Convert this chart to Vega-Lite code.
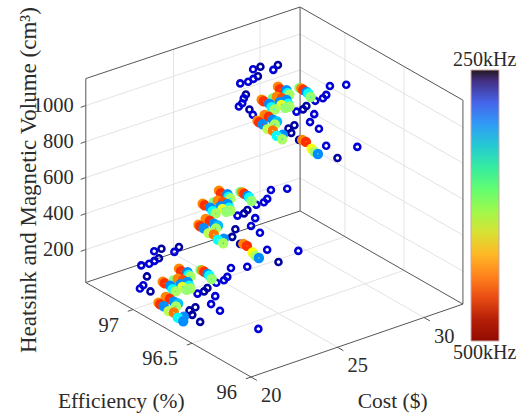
{"$schema":"https://vega.github.io/schema/vega-lite/v6.json","width":519,"height":417,"padding":0,"autosize":{"type":"none"},"background":"white","view":{"stroke":null},"config":{"text":{"font":"Liberation Serif","fontSize":20.5,"color":"#2b2b2b"}},
"data":{"values":[
{"k":"g","cost":20,"eff":97.4,"vol":200,"cost2":32.25,"eff2":97.38,"vol2":200},{"k":"g","cost":32.25,"eff":97.38,"vol":200,"cost2":32.25,"eff2":96,"vol2":200},
{"k":"g","cost":20,"eff":97.4,"vol":400,"cost2":32.25,"eff2":97.38,"vol2":400},{"k":"g","cost":32.25,"eff":97.38,"vol":400,"cost2":32.25,"eff2":96,"vol2":400},
{"k":"g","cost":20,"eff":97.4,"vol":600,"cost2":32.25,"eff2":97.38,"vol2":600},{"k":"g","cost":32.25,"eff":97.38,"vol":600,"cost2":32.25,"eff2":96,"vol2":600},
{"k":"g","cost":20,"eff":97.4,"vol":800,"cost2":32.25,"eff2":97.38,"vol2":800},{"k":"g","cost":32.25,"eff":97.38,"vol":800,"cost2":32.25,"eff2":96,"vol2":800},
{"k":"g","cost":20,"eff":97.4,"vol":1000,"cost2":32.25,"eff2":97.38,"vol2":1000},{"k":"g","cost":32.25,"eff":97.38,"vol":1000,"cost2":32.25,"eff2":96,"vol2":1000},
{"k":"g","cost":25,"eff":96,"vol":17,"cost2":25,"eff2":97.39,"vol2":17},{"k":"g","cost":25,"eff":97.39,"vol":17,"cost2":25,"eff2":97.39,"vol2":1150},
{"k":"g","cost":30,"eff":96,"vol":17,"cost2":30,"eff2":97.39,"vol2":17},{"k":"g","cost":30,"eff":97.39,"vol":17,"cost2":30,"eff2":97.39,"vol2":1150},
{"k":"g","cost":20,"eff":96.5,"vol":17,"cost2":32.25,"eff2":96.5,"vol2":17},{"k":"g","cost":32.25,"eff":96.5,"vol":17,"cost2":32.25,"eff2":96.5,"vol2":1150},
{"k":"g","cost":20,"eff":97,"vol":17,"cost2":32.25,"eff2":97,"vol2":17},{"k":"g","cost":32.25,"eff":97,"vol":17,"cost2":32.25,"eff2":97,"vol2":1150},
{"k":"b","cost":20,"eff":97.4,"vol":17,"cost2":20,"eff2":96,"vol2":17},{"k":"b","cost":20,"eff":96,"vol":17,"cost2":32.25,"eff2":96,"vol2":17},
{"k":"b","cost":20,"eff":97.4,"vol":17,"cost2":32.25,"eff2":97.38,"vol2":17},{"k":"b","cost":32.25,"eff":97.38,"vol":17,"cost2":32.25,"eff2":96,"vol2":17},
{"k":"b","cost":20,"eff":97.4,"vol":17,"cost2":20,"eff2":97.4,"vol2":1150},{"k":"b","cost":32.25,"eff":96,"vol":17,"cost2":32.25,"eff2":96,"vol2":1150},
{"k":"b","cost":32.25,"eff":97.38,"vol":17,"cost2":32.25,"eff2":97.38,"vol2":1150},{"k":"b","cost":20,"eff":97.4,"vol":1150,"cost2":32.25,"eff2":97.38,"vol2":1150},
{"k":"b","cost":32.25,"eff":97.38,"vol":1150,"cost2":32.25,"eff2":96,"vol2":1150},
{"k":"b","cost":19.7,"eff":97.4,"vol":200,"cost2":20,"eff2":97.4,"vol2":200},{"k":"b","cost":19.7,"eff":97.4,"vol":400,"cost2":20,"eff2":97.4,"vol2":400},{"k":"b","cost":19.7,"eff":97.4,"vol":600,"cost2":20,"eff2":97.4,"vol2":600},{"k":"b","cost":19.7,"eff":97.4,"vol":800,"cost2":20,"eff2":97.4,"vol2":800},{"k":"b","cost":19.7,"eff":97.4,"vol":1000,"cost2":20,"eff2":97.4,"vol2":1000},
{"k":"b","cost":19.7,"eff":96,"vol":17,"cost2":20,"eff2":96,"vol2":17},{"k":"b","cost":19.7,"eff":96.5,"vol":17,"cost2":20,"eff2":96.5,"vol2":17},{"k":"b","cost":19.7,"eff":97,"vol":17,"cost2":20,"eff2":97,"vol2":17},
{"k":"b","cost":20,"eff":95.95,"vol":17,"cost2":20,"eff2":96,"vol2":17},{"k":"b","cost":25,"eff":95.95,"vol":17,"cost2":25,"eff2":96,"vol2":17},{"k":"b","cost":30,"eff":95.95,"vol":17,"cost2":30,"eff2":96,"vol2":17},
{"k":"v","label":"200","cost":20,"eff":97.4,"vol":200},{"k":"v","label":"400","cost":20,"eff":97.4,"vol":400},{"k":"v","label":"600","cost":20,"eff":97.4,"vol":600},{"k":"v","label":"800","cost":20,"eff":97.4,"vol":800},{"k":"v","label":"1000","cost":20,"eff":97.4,"vol":1000},
{"k":"e","label":"96","cost":20,"eff":96,"vol":17},{"k":"e","label":"96.5","cost":20,"eff":96.5,"vol":17},{"k":"e","label":"97","cost":20,"eff":97,"vol":17},
{"k":"c","label":"20","cost":20,"eff":96,"vol":17},{"k":"c","label":"25","cost":25,"eff":96,"vol":17},{"k":"c","label":"30","cost":30,"eff":96,"vol":17},
{"k":"t","label":"Efficiency (%)","cost":13.73,"eff":96.18,"vol":17},{"k":"t","label":"Cost ($)","cost":23.55,"eff":95.32,"vol":17},
{"k":"z","label":"Heatsink and Magnetic Volume (cm³)","cost":20,"eff":97.88,"vol":406},
{"k":"h","label":"250kHz","hz":250,"cost":48.45,"eff":98.19,"vol":17},{"k":"h","label":"500kHz","hz":500,"cost":29.96,"eff":95.48,"vol":17},
{"cost":24.43,"eff":97.47,"vol":18,"f":270},{"cost":24.85,"eff":97.47,"vol":18,"f":255},{"cost":25.59,"eff":97.43,"vol":18,"f":255},{"cost":25.12,"eff":97.4,"vol":18,"f":270},{"cost":24.16,"eff":97.39,"vol":18,"f":255},{"cost":23.83,"eff":97.38,"vol":18,"f":270},{"cost":23.46,"eff":97.37,"vol":18,"f":270},{"cost":23.07,"eff":97.38,"vol":18,"f":270},{"cost":22.58,"eff":97.26,"vol":18,"f":255},{"cost":21.89,"eff":97.19,"vol":18,"f":270},{"cost":21.56,"eff":97.17,"vol":18,"f":270},{"cost":21.76,"eff":97.11,"vol":18,"f":255},{"cost":26.14,"eff":97.07,"vol":18,"f":270},{"cost":26.81,"eff":97.03,"vol":18,"f":270},{"cost":25.45,"eff":97,"vol":18,"f":270},{"cost":25.12,"eff":96.98,"vol":18,"f":270},{"cost":24.68,"eff":96.98,"vol":18,"f":270},{"cost":24.03,"eff":96.96,"vol":18,"f":255},{"cost":23.7,"eff":96.94,"vol":18,"f":255},{"cost":23.32,"eff":96.94,"vol":18,"f":270},{"cost":23.8,"eff":96.86,"vol":18,"f":270},{"cost":23.15,"eff":96.8,"vol":18,"f":270},{"cost":23.05,"eff":96.71,"vol":18,"f":270},{"cost":22.38,"eff":96.82,"vol":18,"f":255},{"cost":21.97,"eff":96.81,"vol":18,"f":255},{"cost":21.79,"eff":96.76,"vol":18,"f":255},{"cost":21.63,"eff":96.67,"vol":18,"f":255},{"cost":23.29,"eff":96.42,"vol":18,"f":270},
{"cost":28.45,"eff":97.07,"vol":375,"f":270},{"cost":29.12,"eff":97.03,"vol":375,"f":270},{"cost":27.76,"eff":97,"vol":375,"f":270},{"cost":27.43,"eff":96.98,"vol":375,"f":270},{"cost":26.99,"eff":96.98,"vol":375,"f":270},{"cost":26.34,"eff":96.96,"vol":375,"f":255},{"cost":26.01,"eff":96.94,"vol":375,"f":255},{"cost":25.63,"eff":96.94,"vol":375,"f":270},{"cost":26.11,"eff":96.86,"vol":375,"f":270},{"cost":25.46,"eff":96.8,"vol":375,"f":270},{"cost":25.36,"eff":96.71,"vol":375,"f":270},{"cost":24.69,"eff":96.82,"vol":375,"f":255},{"cost":24.1,"eff":96.76,"vol":375,"f":255},{"cost":23.94,"eff":96.67,"vol":375,"f":255},{"cost":24.55,"eff":96.53,"vol":375,"f":270},{"cost":25.6,"eff":96.42,"vol":375,"f":270},{"cost":24.18,"eff":96.38,"vol":375,"f":255},
{"cost":30.15,"eff":97.47,"vol":840,"f":270},{"cost":30.57,"eff":97.47,"vol":840,"f":255},{"cost":31.31,"eff":97.43,"vol":840,"f":255},{"cost":30.84,"eff":97.4,"vol":840,"f":270},{"cost":29.88,"eff":97.39,"vol":840,"f":255},{"cost":29.55,"eff":97.38,"vol":840,"f":270},{"cost":29.18,"eff":97.37,"vol":840,"f":270},{"cost":28.79,"eff":97.38,"vol":840,"f":270},{"cost":28.3,"eff":97.26,"vol":840,"f":255},{"cost":27.97,"eff":97.23,"vol":840,"f":270},{"cost":27.61,"eff":97.19,"vol":840,"f":270},{"cost":27.28,"eff":97.17,"vol":840,"f":270},{"cost":27.48,"eff":97.11,"vol":840,"f":255},{"cost":27.27,"eff":97.05,"vol":840,"f":270},{"cost":31.86,"eff":97.07,"vol":840,"f":270},{"cost":32.53,"eff":97.03,"vol":840,"f":270},{"cost":31.17,"eff":97,"vol":840,"f":270},{"cost":30.84,"eff":96.98,"vol":840,"f":270},{"cost":30.4,"eff":96.98,"vol":840,"f":270},{"cost":29.75,"eff":96.96,"vol":840,"f":255},{"cost":29.42,"eff":96.94,"vol":840,"f":255},{"cost":29.04,"eff":96.94,"vol":840,"f":270},{"cost":29.52,"eff":96.86,"vol":840,"f":270},{"cost":28.87,"eff":96.8,"vol":840,"f":270},{"cost":28.77,"eff":96.71,"vol":840,"f":270},{"cost":28.1,"eff":96.82,"vol":840,"f":255},{"cost":27.69,"eff":96.81,"vol":840,"f":255},{"cost":27.51,"eff":96.76,"vol":840,"f":255},{"cost":27.35,"eff":96.67,"vol":840,"f":255},{"cost":27.96,"eff":96.53,"vol":840,"f":270},{"cost":29.01,"eff":96.42,"vol":840,"f":270},{"cost":27.59,"eff":96.38,"vol":840,"f":255},
{"cost":24.92,"eff":97.15,"vol":18,"f":375},{"cost":24.96,"eff":97.14,"vol":18,"f":445},{"cost":24.94,"eff":97.12,"vol":18,"f":465},{"cost":24.93,"eff":97.09,"vol":18,"f":305},{"cost":24.89,"eff":97.07,"vol":18,"f":345},{"cost":24.75,"eff":97.03,"vol":18,"f":380},{"cost":24.23,"eff":97.23,"vol":18,"f":445},{"cost":24.14,"eff":97.2,"vol":18,"f":465},{"cost":24.31,"eff":97.17,"vol":18,"f":305},{"cost":24.17,"eff":97.14,"vol":18,"f":345},{"cost":24.14,"eff":97.12,"vol":18,"f":385},{"cost":22.81,"eff":97.16,"vol":18,"f":445},{"cost":22.79,"eff":97.14,"vol":18,"f":465},{"cost":23.31,"eff":97.14,"vol":18,"f":375},{"cost":23.55,"eff":97.14,"vol":18,"f":445},{"cost":23.63,"eff":97.11,"vol":18,"f":460},{"cost":23.7,"eff":97.08,"vol":18,"f":305},{"cost":23.3,"eff":97.08,"vol":18,"f":305},{"cost":22.84,"eff":97.1,"vol":18,"f":305},{"cost":23.52,"eff":97.04,"vol":18,"f":345},{"cost":22.7,"eff":97.06,"vol":18,"f":345},{"cost":23.2,"eff":97.05,"vol":18,"f":400},{"cost":23.39,"eff":97.01,"vol":18,"f":385},{"cost":22.67,"eff":97.03,"vol":18,"f":385},{"cost":23.16,"eff":97.01,"vol":18,"f":380},{"cost":21.96,"eff":97.01,"vol":18,"f":445},{"cost":21.99,"eff":96.98,"vol":18,"f":465},{"cost":21.96,"eff":96.94,"vol":18,"f":305},{"cost":21.99,"eff":96.91,"vol":18,"f":320},{"cost":21.73,"eff":96.89,"vol":18,"f":385},{"cost":21.34,"eff":96.98,"vol":18,"f":445},{"cost":21.3,"eff":96.96,"vol":18,"f":465},{"cost":21.3,"eff":96.93,"vol":18,"f":305},{"cost":21.17,"eff":96.87,"vol":18,"f":390},{"cost":21.27,"eff":96.84,"vol":18,"f":450},{"cost":21.37,"eff":96.77,"vol":18,"f":305},{"cost":21.09,"eff":96.78,"vol":18,"f":345},{"cost":21.06,"eff":96.73,"vol":18,"f":305},
{"cost":27.23,"eff":97.15,"vol":375,"f":375},{"cost":27.27,"eff":97.14,"vol":375,"f":445},{"cost":27.25,"eff":97.12,"vol":375,"f":465},{"cost":27.24,"eff":97.09,"vol":375,"f":305},{"cost":27.2,"eff":97.07,"vol":375,"f":345},{"cost":27.06,"eff":97.03,"vol":375,"f":380},{"cost":26.54,"eff":97.23,"vol":375,"f":445},{"cost":26.45,"eff":97.2,"vol":375,"f":465},{"cost":26.62,"eff":97.17,"vol":375,"f":305},{"cost":26.48,"eff":97.14,"vol":375,"f":345},{"cost":26.45,"eff":97.12,"vol":375,"f":385},{"cost":25.12,"eff":97.16,"vol":375,"f":445},{"cost":25.1,"eff":97.14,"vol":375,"f":465},{"cost":25.62,"eff":97.14,"vol":375,"f":375},{"cost":25.86,"eff":97.14,"vol":375,"f":445},{"cost":25.94,"eff":97.11,"vol":375,"f":460},{"cost":26.01,"eff":97.08,"vol":375,"f":305},{"cost":25.61,"eff":97.08,"vol":375,"f":305},{"cost":25.15,"eff":97.1,"vol":375,"f":305},{"cost":25.83,"eff":97.04,"vol":375,"f":345},{"cost":25.01,"eff":97.06,"vol":375,"f":345},{"cost":25.51,"eff":97.05,"vol":375,"f":400},{"cost":25.7,"eff":97.01,"vol":375,"f":385},{"cost":24.98,"eff":97.03,"vol":375,"f":385},{"cost":25.47,"eff":97.01,"vol":375,"f":380},{"cost":24.27,"eff":97.01,"vol":375,"f":445},{"cost":24.3,"eff":96.98,"vol":375,"f":465},{"cost":24.27,"eff":96.94,"vol":375,"f":305},{"cost":24.3,"eff":96.91,"vol":375,"f":320},{"cost":24.04,"eff":96.89,"vol":375,"f":385},{"cost":23.65,"eff":96.98,"vol":375,"f":445},{"cost":23.61,"eff":96.96,"vol":375,"f":465},{"cost":23.61,"eff":96.93,"vol":375,"f":305},{"cost":23.48,"eff":96.87,"vol":375,"f":390},{"cost":23.58,"eff":96.84,"vol":375,"f":450},{"cost":23.68,"eff":96.77,"vol":375,"f":305},{"cost":23.4,"eff":96.78,"vol":375,"f":345},{"cost":23.37,"eff":96.73,"vol":375,"f":385},{"cost":24.06,"eff":96.66,"vol":375,"f":445},{"cost":24.06,"eff":96.63,"vol":375,"f":465},{"cost":23.84,"eff":96.55,"vol":375,"f":405},{"cost":23.74,"eff":96.51,"vol":375,"f":385},{"cost":23.73,"eff":96.48,"vol":375,"f":305},
{"cost":30.64,"eff":97.15,"vol":840,"f":375},{"cost":30.68,"eff":97.14,"vol":840,"f":445},{"cost":30.66,"eff":97.12,"vol":840,"f":465},{"cost":30.65,"eff":97.09,"vol":840,"f":305},{"cost":30.61,"eff":97.07,"vol":840,"f":345},{"cost":30.47,"eff":97.03,"vol":840,"f":380},{"cost":29.95,"eff":97.23,"vol":840,"f":445},{"cost":29.86,"eff":97.2,"vol":840,"f":465},{"cost":30.03,"eff":97.17,"vol":840,"f":305},{"cost":29.89,"eff":97.14,"vol":840,"f":345},{"cost":29.86,"eff":97.12,"vol":840,"f":385},{"cost":28.53,"eff":97.16,"vol":840,"f":445},{"cost":28.51,"eff":97.14,"vol":840,"f":465},{"cost":29.03,"eff":97.14,"vol":840,"f":375},{"cost":29.27,"eff":97.14,"vol":840,"f":445},{"cost":29.35,"eff":97.11,"vol":840,"f":460},{"cost":29.42,"eff":97.08,"vol":840,"f":305},{"cost":29.02,"eff":97.08,"vol":840,"f":305},{"cost":28.56,"eff":97.1,"vol":840,"f":305},{"cost":29.24,"eff":97.04,"vol":840,"f":345},{"cost":28.42,"eff":97.06,"vol":840,"f":345},{"cost":28.92,"eff":97.05,"vol":840,"f":400},{"cost":29.11,"eff":97.01,"vol":840,"f":385},{"cost":28.39,"eff":97.03,"vol":840,"f":385},{"cost":28.88,"eff":97.01,"vol":840,"f":380},{"cost":27.68,"eff":97.01,"vol":840,"f":445},{"cost":27.71,"eff":96.98,"vol":840,"f":465},{"cost":27.68,"eff":96.94,"vol":840,"f":305},{"cost":27.71,"eff":96.91,"vol":840,"f":320},{"cost":27.45,"eff":96.89,"vol":840,"f":385},{"cost":27.06,"eff":96.98,"vol":840,"f":445},{"cost":27.02,"eff":96.96,"vol":840,"f":465},{"cost":27.02,"eff":96.93,"vol":840,"f":305},{"cost":26.89,"eff":96.87,"vol":840,"f":390},{"cost":26.99,"eff":96.84,"vol":840,"f":450},{"cost":27.09,"eff":96.77,"vol":840,"f":305},{"cost":26.81,"eff":96.78,"vol":840,"f":345},{"cost":26.78,"eff":96.73,"vol":840,"f":385},{"cost":27.47,"eff":96.66,"vol":840,"f":445},{"cost":27.47,"eff":96.63,"vol":840,"f":465},{"cost":27.25,"eff":96.55,"vol":840,"f":405},{"cost":27.15,"eff":96.51,"vol":840,"f":385},{"cost":27.14,"eff":96.48,"vol":840,"f":305}
]},
"transform":[
{"calculate":"251+17.3*(datum.cost-20)-118*(datum.eff-96)","as":"sx"},
{"calculate":"377-5.95*(datum.cost-20)-67.5*(datum.eff-96)-0.18*(datum.vol-17)","as":"sy"},
{"calculate":"251+17.3*(datum.cost2-20)-118*(datum.eff2-96)","as":"sx2"},
{"calculate":"377-5.95*(datum.cost2-20)-67.5*(datum.eff2-96)-0.18*(datum.vol2-17)","as":"sy2"}
],
"encoding":{"x":{"field":"sx","type":"quantitative","scale":{"domain":[0,519],"nice":false,"zero":false},"axis":null},"y":{"field":"sy","type":"quantitative","scale":{"domain":[417,0],"nice":false,"zero":false},"axis":null}},
"layer":[
{"transform":[{"filter":"datum.k=='g'"}],"mark":{"type":"rule","color":"#e3e3e3","strokeWidth":1},"encoding":{"x2":{"field":"sx2"},"y2":{"field":"sy2"}}},
{"transform":[{"filter":"datum.k=='b'"}],"mark":{"type":"rule","color":"#555555","strokeWidth":1},"encoding":{"x2":{"field":"sx2"},"y2":{"field":"sy2"}}},
{"transform":[{"filter":"datum.f<290"}],"mark":{"type":"point","shape":"circle","filled":false,"size":36,"strokeWidth":2.6,"opacity":1},"encoding":{"color":{"field":"f","type":"quantitative","legend":null,"scale":{"domain":[250,281,344,375,406,469,500],"range":["#00008f","#0000ff","#00ffff","#80ff80","#ffff00","#ff0000","#800000"]}}}},
{"transform":[{"filter":"datum.f>=290"}],"mark":{"type":"point","shape":"circle","filled":false,"size":34,"strokeWidth":4.6,"opacity":1},"encoding":{"color":{"field":"f","type":"quantitative","legend":null,"scale":{"domain":[250,281,344,375,406,469,500],"range":["#00008f","#0000ff","#00ffff","#80ff80","#ffff00","#ff0000","#800000"]}}}},
{"transform":[{"filter":"datum.k=='v'"}],"mark":{"type":"text","align":"right","baseline":"middle","dx":-12},"encoding":{"text":{"field":"label"}}},
{"transform":[{"filter":"datum.k=='e'"}],"mark":{"type":"text","align":"right","baseline":"middle","dx":-14,"dy":16},"encoding":{"text":{"field":"label"}}},
{"transform":[{"filter":"datum.k=='c'"}],"mark":{"type":"text","align":"left","baseline":"middle","dx":10,"dy":19},"encoding":{"text":{"field":"label"}}},
{"transform":[{"filter":"datum.k=='t'"}],"mark":{"type":"text","align":"center","baseline":"middle","fontSize":21.5},"encoding":{"text":{"field":"label"}}},
{"transform":[{"filter":"datum.k=='z'"}],"mark":{"type":"text","align":"center","baseline":"middle","angle":270,"fontSize":23},"encoding":{"text":{"field":"label"}}},
{"transform":[{"filter":"datum.k=='h'"}],"mark":{"type":"text","align":"center","baseline":"middle","strokeWidth":0,"fill":"#2b2b2b","fontSize":20},"encoding":{"text":{"field":"label"},"stroke":{"field":"hz","type":"quantitative","scale":{"domain":[500,250],"scheme":"turbo","reverse":true},"legend":{"orient":"none","legendX":471,"legendY":70,"direction":"vertical","gradientLength":271,"gradientThickness":28,"title":null,"values":[250,500],"labelExpr":"''","gradientStrokeColor":"#c9a9a9","gradientStrokeWidth":1,"tickCount":2}}}}
]}
